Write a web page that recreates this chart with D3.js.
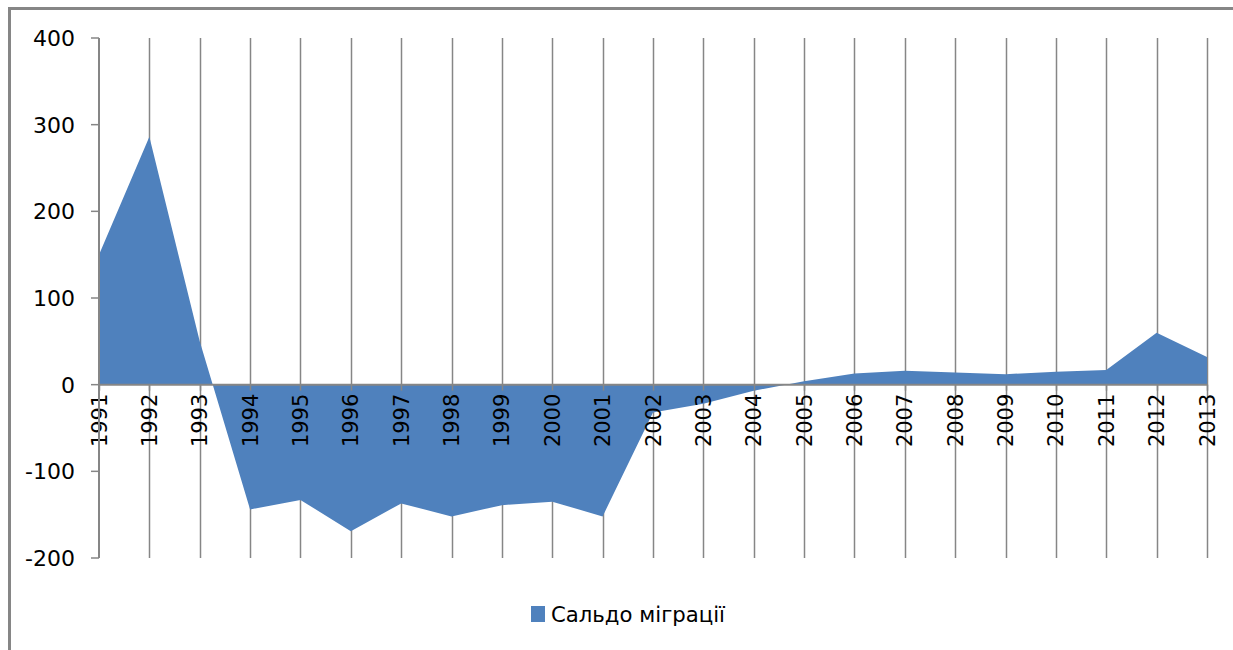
<!DOCTYPE html>
<html>
<head>
<meta charset="utf-8">
<script src="https://cdn.jsdelivr.net/npm/d3@7"></script>
<style>
  body { margin: 0; background: #fff; }
  svg { display: block; }
</style>
</head>
<body>
<script>
const years = [1991, 1992, 1993, 1994, 1995, 1996, 1997, 1998, 1999, 2000, 2001, 2002,
  2003, 2004, 2005, 2006, 2007, 2008, 2009, 2010, 2011, 2012, 2013]
const saldo = [150, 286, 50, -144, -133, -169, -137, -152, -139, -135, -152, -32,
  -22, -7, 4, 13, 16, 14, 12, 15, 17, 60, 32]
const yTicks = [-200, -100, 0, 100, 200, 300, 400]
const seriesName = 'Сальдо міграції'

const width = 1233
const height = 650
const grey = '#868686'
const blue = '#4f81bd'

const svg = d3.select('body').append('svg')
  .attr('viewBox', `0 0 ${width} ${height}`)
  .attr('width', width)
  .attr('height', height)

const margin = {top: 38, right: 26, bottom: 92, left: 99}

const x = d3.scalePoint()
  .domain(years)
  .range([margin.left, width - margin.right])

const y = d3.scaleLinear()
  .domain([-200, 400])
  .range([height - margin.bottom, margin.top])

// chart frame
svg.append('rect')
  .attr('x', 9.5).attr('y', 8.5)
  .attr('width', width + 20).attr('height', height + 20)
  .attr('fill', 'none')
  .attr('stroke', grey)
  .attr('stroke-width', 3)

// vertical gridlines
svg.append('g')
  .selectAll('line')
  .data(years.slice(1))
  .join('line')
    .attr('x1', d => Math.round(x(d)) + 0.5)
    .attr('x2', d => Math.round(x(d)) + 0.5)
    .attr('y1', y(400))
    .attr('y2', y(-200))
    .attr('stroke', grey)
    .attr('stroke-width', 1.5)

// area
const area = d3.area()
  .x((d, i) => x(years[i]))
  .y0(y(0))
  .y1(d => y(d))

svg.append('path')
  .datum(saldo)
  .attr('d', area)
  .attr('fill', blue)

// x axis at zero
const xAxis = svg.append('g')
  .attr('transform', `translate(0,${y(0)})`)

xAxis.append('line')
  .attr('x1', x.range()[0]).attr('x2', x.range()[1])
  .attr('stroke', grey).attr('stroke-width', 2)

xAxis.selectAll('.tick')
  .data(years)
  .join('line')
    .attr('x1', d => Math.round(x(d)) + 0.5)
    .attr('x2', d => Math.round(x(d)) + 0.5)
    .attr('y1', 0).attr('y2', 6)
    .attr('stroke', grey).attr('stroke-width', 1.5)

xAxis.selectAll('text')
  .data(years)
  .join('text')
    .attr('transform', d => `translate(${x(d)},9) rotate(-90)`)
    .attr('text-anchor', 'end')
    .attr('dy', '0.36em')
    .attr('font-family', 'DejaVu Sans')
    .attr('font-size', 21)
    .attr('fill', '#000')
    .text(d => d)

// y axis
const yAxis = svg.append('g')
  .attr('transform', `translate(${margin.left},0)`)

yAxis.append('line')
  .attr('y1', y(400)).attr('y2', y(-200))
  .attr('stroke', grey).attr('stroke-width', 2)

yAxis.selectAll('.tk')
  .data(yTicks)
  .join('line')
    .attr('x1', -8).attr('x2', 0)
    .attr('y1', d => y(d)).attr('y2', d => y(d))
    .attr('stroke', grey).attr('stroke-width', 1.5)

yAxis.selectAll('text')
  .data(yTicks)
  .join('text')
    .attr('x', -24)
    .attr('y', d => y(d))
    .attr('dy', '0.36em')
    .attr('text-anchor', 'end')
    .attr('font-family', 'DejaVu Sans')
    .attr('font-size', 22)
    .attr('fill', '#000')
    .text(d => d)

// legend
const legend = svg.append('g')
  .attr('transform', 'translate(531,606)')

legend.append('rect')
  .attr('width', 14).attr('height', 16)
  .attr('fill', blue)

legend.append('text')
  .attr('x', 20).attr('y', 8)
  .attr('dy', '0.36em')
  .attr('font-family', 'DejaVu Sans')
  .attr('font-size', 22)
  .attr('textLength', 174)
  .attr('lengthAdjust', 'spacingAndGlyphs')
  .attr('fill', '#000')
  .text(seriesName)
</script>
</body>
</html>
